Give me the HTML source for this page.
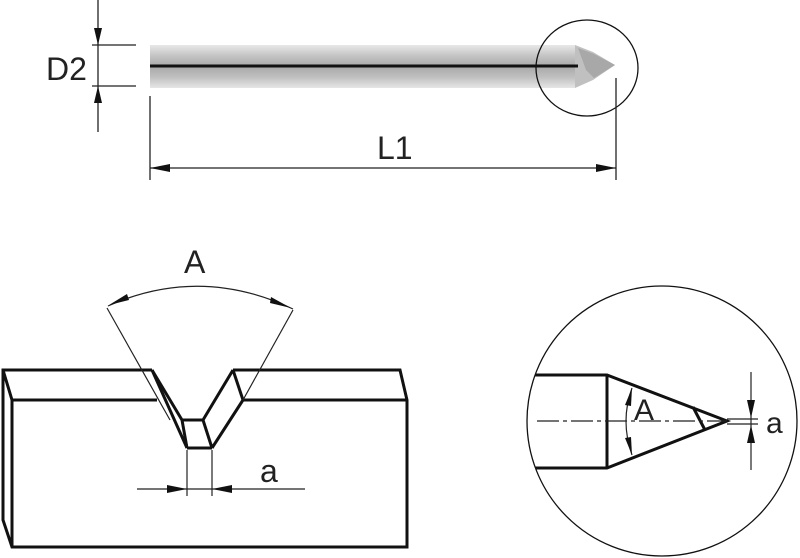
<!DOCTYPE html>
<html><head><style>html,body{margin:0;padding:0;background:#fff;}svg{display:block}</style></head><body>
<svg width="800" height="558" viewBox="0 0 800 558" xmlns="http://www.w3.org/2000/svg" font-family="Liberation Sans, sans-serif">
<defs>
<linearGradient id="sh" x1="0" y1="0" x2="0" y2="1">
<stop offset="0" stop-color="#e8e8e8"/><stop offset="0.25" stop-color="#c4c4c4"/><stop offset="0.5" stop-color="#a8a8a8"/><stop offset="0.75" stop-color="#c0c0c0"/><stop offset="1" stop-color="#e6e6e6"/>
</linearGradient>
</defs>
<rect x="150" y="45" width="425" height="43" fill="url(#sh)"/>
<polygon points="575,45 593,52 615,65 593,80 575,88" fill="#c0c0c0"/>
<polygon points="578,48 594,54 615,65 594,78 586,70" fill="#a8a8a8"/>
<line x1="150" y1="66" x2="578" y2="66" stroke="#111" stroke-width="3"/>
<ellipse cx="587" cy="68" rx="51" ry="48" fill="none" stroke="#111" stroke-width="1.3"/>
<g stroke="#222" stroke-width="1.3" fill="none">
<line x1="98" y1="0" x2="98" y2="132"/>
<line x1="92" y1="45" x2="136" y2="45"/><line x1="92" y1="86" x2="136" y2="86"/>
<line x1="150" y1="96" x2="150" y2="180"/><line x1="616" y1="78" x2="616" y2="180"/>
<line x1="150" y1="168" x2="616" y2="168"/>
</g>
<g fill="#111">
<polygon points="98,45 94,28 102,28"/><polygon points="98,86 94,103 102,103"/>
<polygon points="150,168 170,164 170,172"/><polygon points="616,168 596,164 596,172"/>
</g>
<text x="46" y="80" font-size="32" fill="#222">D2</text>
<text x="377" y="159" font-size="32" fill="#222">L1</text>
<g stroke="#111" stroke-width="3" fill="none" stroke-linejoin="miter">
<polyline points="152,370 3,370 3,520 12,547 407,547 407,400 400,370 233,370"/>
<line x1="3" y1="370" x2="12" y2="400"/>
<line x1="12" y1="400" x2="12" y2="547"/>
<line x1="12" y1="400" x2="157" y2="400"/>
<line x1="243" y1="400" x2="407" y2="400"/>
<line x1="152" y1="370" x2="187" y2="448"/>
<line x1="152" y1="370" x2="182" y2="420"/>
<line x1="182" y1="420" x2="187" y2="448"/>
<line x1="182" y1="420" x2="203" y2="420"/>
<line x1="203" y1="420" x2="212" y2="448"/>
<line x1="187" y1="448" x2="212" y2="448"/>
<line x1="203" y1="420" x2="233" y2="370"/>
<line x1="212" y1="448" x2="243" y2="400"/>
<line x1="233" y1="370" x2="243" y2="400"/>
</g>
<g stroke="#222" stroke-width="1.2" fill="none">
<line x1="107" y1="308" x2="170" y2="420"/>
<line x1="293" y1="310" x2="243" y2="400"/>
<path d="M108,306 Q200,265 293,309"/>
<line x1="187" y1="450" x2="187" y2="496"/><line x1="212" y1="450" x2="212" y2="496"/>
<line x1="137" y1="489" x2="305" y2="489"/>
</g>
<g fill="#111">
<polygon points="109,305 127,294 129,300"/><polygon points="291,308 271,297 270,303"/>
<polygon points="187,489 167,485 167,493"/><polygon points="212,489 232,485 232,493"/>
</g>
<text x="184" y="273" font-size="32" fill="#222">A</text>
<text x="260" y="482" font-size="32" fill="#222">a</text>
<clipPath id="cc"><circle cx="662" cy="421" r="135"/></clipPath>
<g clip-path="url(#cc)" stroke="#111" stroke-width="3" fill="none">
<polyline points="520,375 607,375 727,421 607,468 520,468"/>
<line x1="607" y1="375" x2="607" y2="468"/>
<line x1="693" y1="407" x2="705" y2="430"/>
</g>
<circle cx="662" cy="421" r="135" fill="none" stroke="#111" stroke-width="1.3"/>
<g stroke="#222" stroke-width="1.2" fill="none">
<line x1="537" y1="421" x2="727" y2="421" stroke-dasharray="22,4,4,4"/>
<line x1="727" y1="419" x2="758" y2="419"/><line x1="727" y1="424" x2="758" y2="424"/>
<line x1="751" y1="372" x2="751" y2="470"/>
<path d="M632,388 Q620,421 632,455"/>
</g>
<g fill="#111">
<polygon points="751,418 747,400 755,400"/><polygon points="751,425 747,443 755,443"/>
<polygon points="632,388 625,405 631,406"/><polygon points="632,455 625,438 631,437"/>
</g>
<text x="634" y="420" font-size="30" fill="#222">A</text>
<text x="766" y="433" font-size="30" fill="#222">a</text>
</svg>
</body></html>
